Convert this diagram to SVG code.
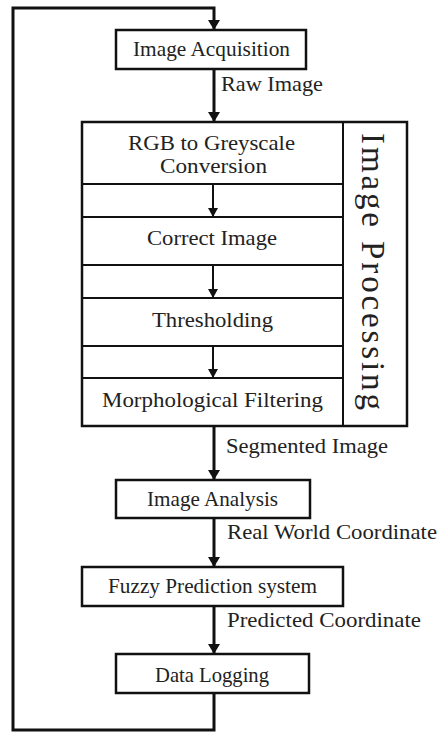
<svg xmlns="http://www.w3.org/2000/svg" width="441" height="733" viewBox="0 0 441 733">
<style>
.box{fill:#fff;stroke:#111;stroke-width:2.5}
.row{fill:none;stroke:#111;stroke-width:2}
.t{font-family:"Liberation Serif","Times New Roman",serif;font-size:22px;fill:#222}
.c{text-anchor:middle}
.big{font-family:"Liberation Serif","Times New Roman",serif;font-size:33px;fill:#222}
.main{fill:none;stroke:#111;stroke-width:3}
.inner{fill:none;stroke:#111;stroke-width:2}
</style>
<defs>
<marker id="ah" markerUnits="userSpaceOnUse" markerWidth="14" markerHeight="12" refX="10" refY="6" orient="auto">
<path d="M0,0 L10,6 L0,12 Z" fill="#111"/>
</marker>
<marker id="ahs" markerUnits="userSpaceOnUse" markerWidth="12" markerHeight="10" refX="9" refY="5" orient="auto">
<path d="M0,0 L9,5 L0,10 Z" fill="#111"/>
</marker>
</defs>
<rect width="441" height="733" fill="#fff"/>
<g id="acq">
<rect class="box" x="116" y="30" width="190" height="39"/>
<text class="t c" x="211.5" y="56" textLength="157" lengthAdjust="spacingAndGlyphs">Image Acquisition</text>
</g>
<g id="processing">
<rect class="box" x="82" y="122" width="325" height="304"/>
<line class="row" x1="343" y1="122" x2="343" y2="426"/>
<line class="row" x1="82" y1="184" x2="343" y2="184"/>
<line class="row" x1="82" y1="217" x2="343" y2="217"/>
<line class="row" x1="82" y1="265" x2="343" y2="265"/>
<line class="row" x1="82" y1="298" x2="343" y2="298"/>
<line class="row" x1="82" y1="346" x2="343" y2="346"/>
<line class="row" x1="82" y1="378" x2="343" y2="378"/>
<text class="big" transform="translate(362,133) rotate(90)" textLength="277">Image Processing</text>
</g>
<g id="rgb">
<text class="t c" x="211.5" y="150" textLength="167" lengthAdjust="spacingAndGlyphs">RGB to Greyscale</text>
<text class="t c" x="213.5" y="173" textLength="107" lengthAdjust="spacingAndGlyphs">Conversion</text>
</g>
<g id="correct">
<text class="t c" x="212" y="245" textLength="130" lengthAdjust="spacingAndGlyphs">Correct Image</text>
</g>
<g id="threshold">
<text class="t c" x="212.5" y="327" textLength="121" lengthAdjust="spacingAndGlyphs">Thresholding</text>
</g>
<g id="morph">
<text class="t c" x="212.5" y="407" textLength="221" lengthAdjust="spacingAndGlyphs">Morphological Filtering</text>
</g>
<g id="analysis">
<rect class="box" x="116" y="480" width="194" height="38"/>
<text class="t c" x="212.5" y="506" textLength="131" lengthAdjust="spacingAndGlyphs">Image Analysis</text>
</g>
<g id="fuzzy">
<rect class="box" x="82" y="567" width="261" height="39"/>
<text class="t c" x="212.5" y="593" textLength="209" lengthAdjust="spacingAndGlyphs">Fuzzy Prediction system</text>
</g>
<g id="logging">
<rect class="box" x="116" y="654" width="193" height="39"/>
<text class="t c" x="212" y="682" textLength="114" lengthAdjust="spacingAndGlyphs">Data Logging</text>
</g>
<g id="connectors">
<path class="main" d="M214,693 V730 H13 V8 H214 V30" marker-end="url(#ah)"/>
<line class="main" x1="214" y1="69" x2="214" y2="122" marker-end="url(#ah)"/>
<line class="main" x1="214" y1="426" x2="214" y2="480" marker-end="url(#ah)"/>
<line class="main" x1="214" y1="518" x2="214" y2="567" marker-end="url(#ah)"/>
<line class="main" x1="214" y1="606" x2="214" y2="654" marker-end="url(#ah)"/>
<line class="inner" x1="213" y1="184" x2="213" y2="217" marker-end="url(#ahs)"/>
<line class="inner" x1="213" y1="265" x2="213" y2="298" marker-end="url(#ahs)"/>
<line class="inner" x1="213" y1="346" x2="213" y2="378" marker-end="url(#ahs)"/>
<text class="t" x="221" y="91" textLength="102" lengthAdjust="spacingAndGlyphs">Raw Image</text>
<text class="t" x="226" y="453" textLength="162" lengthAdjust="spacingAndGlyphs">Segmented Image</text>
<text class="t" x="227" y="539" textLength="210" lengthAdjust="spacingAndGlyphs">Real World Coordinate</text>
<text class="t" x="227" y="627" textLength="194" lengthAdjust="spacingAndGlyphs">Predicted Coordinate</text>
</g>
</svg>
